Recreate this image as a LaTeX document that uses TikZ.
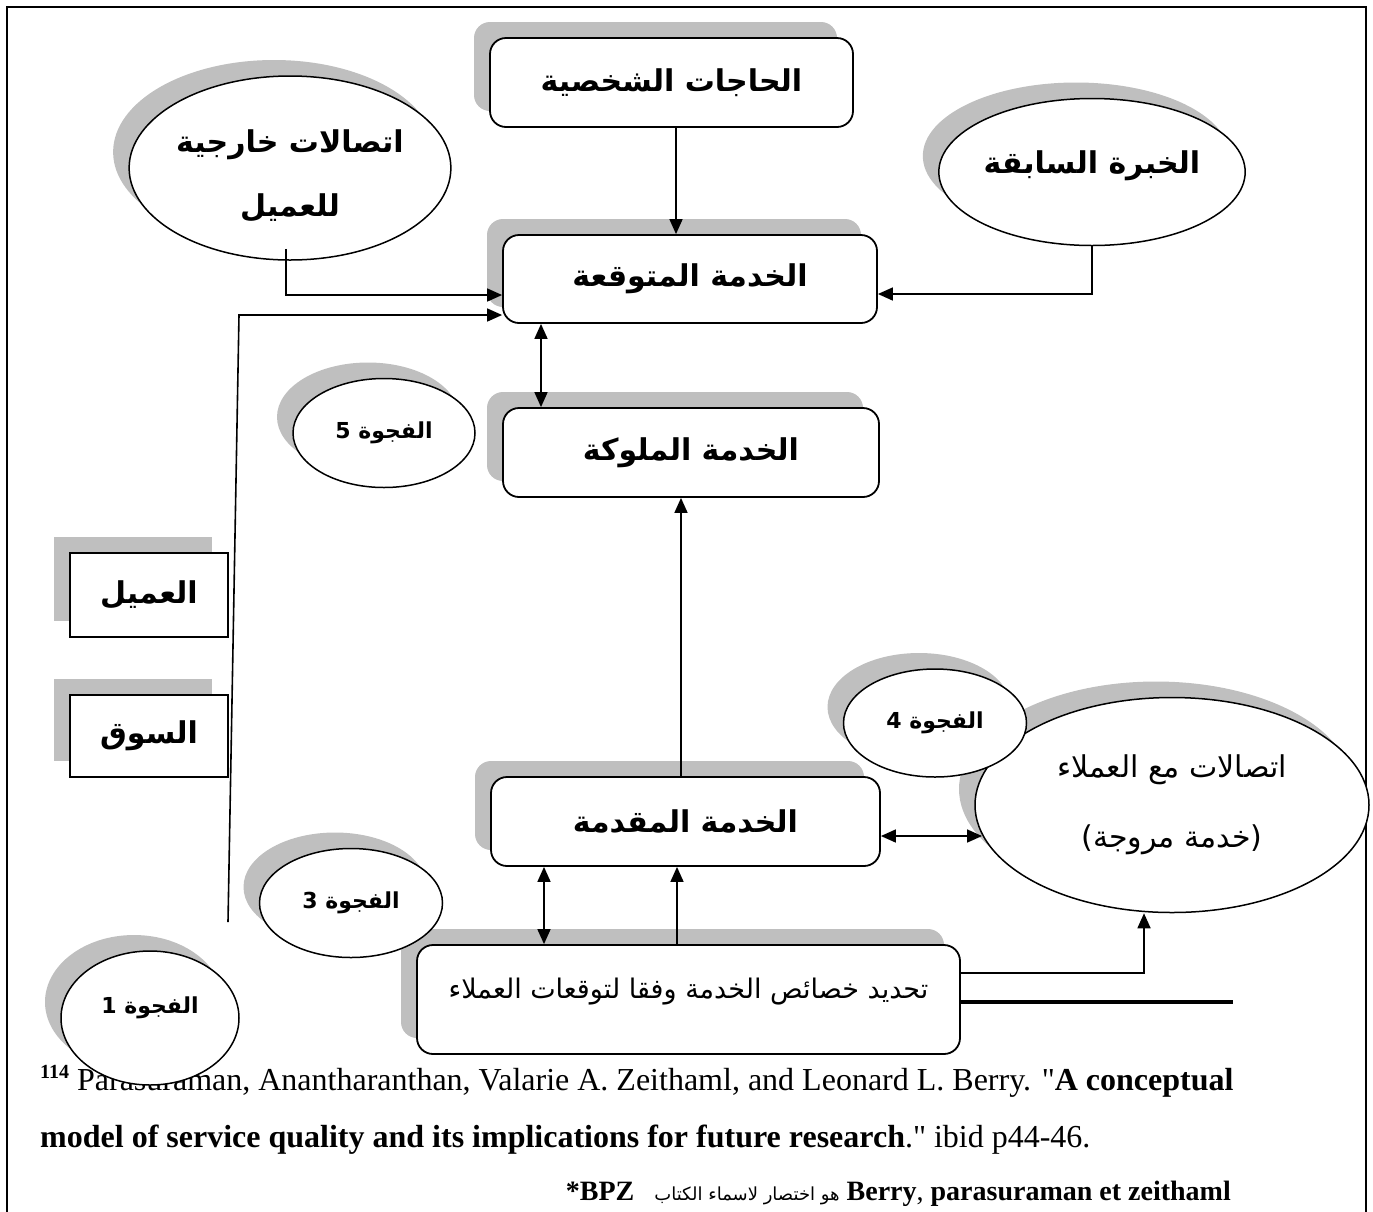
\documentclass[tikz,border=0pt]{standalone}
\usepackage{fontspec}
\setmainfont[Ligatures=TeXOff]{Liberation Serif}
\newfontfamily\arabicfont[Script=Arabic]{DejaVu Sans}
\TeXXeTstate=1
\usetikzlibrary{arrows.meta,shapes.geometric,shadows}
\definecolor{shade}{RGB}{191,191,191}

% right-to-left run of Arabic text
\newcommand{\artext}[1]{\beginR#1\endR}
% move text up or down without changing the size of its box
\newcommand{\lift}[2]{\raisebox{#1}[\height][\depth]{#2}}
\newcommand{\boldar}{\arabicfont\bfseries\fontsize{30}{64}\selectfont}
\newcommand{\plainar}{\arabicfont\fontsize{30}{70}\selectfont}
\newcommand{\specar}{\arabicfont\fontsize{27}{32}\selectfont}
\newcommand{\gapar}{\arabicfont\bfseries\fontsize{22}{26}\selectfont}

\begin{document}
\begin{tikzpicture}[x=1pt,y=-1pt,
  shadowed/.style={drop shadow={shadow xshift=-16pt,shadow yshift=16pt,fill=shade,opacity=1}},
  shapeline/.style={draw=black,line width=1.8pt,fill=white,inner sep=0pt,shadowed},
  roundbox/.style={shapeline,rectangle,rounded corners=16pt,font=\boldar},
  plainbox/.style={shapeline,rectangle,font=\boldar},
  oval/.style={shapeline,ellipse,line width=1.5pt},
  tip/.tip={Triangle[length=15pt,width=13pt]},
  link/.style={line width=1.6pt,-tip},
  twoway/.style={line width=1.6pt,tip-tip},
  bar/.style={line width=4pt},
  frame/.style={line width=2.4pt},
  note/.style={inner sep=0pt,font=\fontsize{32}{38}\selectfont},
]
\useasboundingbox (0,0) rectangle (1373,1211);

% page frame
\draw[frame] (7,1220) -- (7,7) -- (1366,7) -- (1366,1220);

% footnote
\node[note,anchor=base west] (ref1) at (40,1090)
  {{\fontsize{20}{20}\selectfont\bfseries\raisebox{12pt}{114}} Parasuraman, Anantharanthan, Valarie A. Zeithaml, and Leonard L. Berry. "\textbf{A conceptual}};
\node[note,anchor=base west] (ref2) at (40,1147)
  {\textbf{model of service quality and its implications for future research}." ibid p44-46.};
\node[inner sep=0pt,anchor=base east,font=\fontsize{28}{32}\selectfont] (ref3) at (1231,1200)
  {\textbf{*BPZ}\hspace{20pt}{\arabicfont\fontsize{18}{20}\selectfont\artext{هو اختصار لاسماء الكتاب}}\ \textbf{Berry}, \textbf{parasuraman et zeithaml}};

% boxes and ovals
\node[roundbox,minimum width=363pt,minimum height=89pt] (needs) at (671.5,82.5) {\artext{الحاجات الشخصية}};
\node[oval,minimum width=308pt,minimum height=184pt,font=\boldar,align=center] (ext) at (290,168)
  {\lift{-8pt}{\artext{اتصالات خارجية}}\\\lift{-8pt}{\artext{للعميل}}};
\node[oval,minimum width=291pt,minimum height=147pt,font=\boldar] (prior) at (1092,172) {\lift{6pt}{\artext{الخبرة السابقة}}};
\node[roundbox,minimum width=374pt,minimum height=88pt] (exp) at (690,279) {\artext{الخدمة المتوقعة}};
\node[oval,minimum width=182pt,minimum height=109pt,font=\gapar] (gap5) at (384,433) {\artext{الفجوة 5}};
\node[roundbox,minimum width=376pt,minimum height=89pt] (perc) at (691,452.5) {\artext{الخدمة الملوكة}};
\node[plainbox,minimum width=158pt,minimum height=84pt] (customer) at (149,595) {\artext{العميل}};
\node[plainbox,minimum width=158pt,minimum height=82pt] (market) at (149,736) {\artext{السوق}};
\node[oval,minimum width=394pt,minimum height=215pt,font=\plainar,align=center] (wom) at (1172,805)
  {\artext{اتصالات مع العملاء}\\\artext{(خدمة مروجة)}};
\node[oval,minimum width=183pt,minimum height=108pt,font=\gapar] (gap4) at (935,723) {\artext{الفجوة 4}};
\node[roundbox,minimum width=389pt,minimum height=89pt] (deliv) at (685.5,821.5) {\artext{الخدمة المقدمة}};
\node[roundbox,minimum width=543pt,minimum height=109pt,font=\specar] (spec) at (688.5,999.5)
  {\lift{8pt}{\artext{تحديد خصائص الخدمة وفقا لتوقعات العملاء}}};
\node[oval,minimum width=183pt,minimum height=109pt,font=\gapar] (gap3) at (351,903) {\artext{الفجوة 3}};
\node[oval,minimum width=178pt,minimum height=134pt,font=\gapar] (gap1) at (150,1018) {\lift{10pt}{\artext{الفجوة 1}}};

% free ends of the market line and the bar
\coordinate (mktfoot) at (228,922);
\coordinate (mktbend) at (239,315);
\coordinate (barend) at (1233,1002);

% connectors
\draw[link] ([xshift=4.5pt]needs.south) -- ([xshift=-14pt]exp.north);
\draw[link] ([xshift=-4pt,yshift=12pt]ext.south) |- ([yshift=-16pt]exp.west);
\draw[link] (prior.south) |- ([yshift=-15pt]exp.east);
\draw[link] (mktfoot) -- (mktbend) -- ([yshift=-36pt]exp.west);
\draw[twoway] ([xshift=-149pt]exp.south) -- ([xshift=-150pt]perc.north);
\draw[link] ([xshift=-4.5pt]deliv.north) -- ([xshift=-10pt]perc.south);
\draw[twoway] ([yshift=-14.5pt]deliv.east) -- ([yshift=-14.5pt]deliv.east -| wom.189);
\draw[twoway] ([xshift=-144.5pt]spec.north) -- ([xshift=-141.5pt]deliv.south);
\draw[link] ([xshift=-11.5pt]spec.north) -- ([xshift=-8.5pt]deliv.south);
\draw[link] ([yshift=26.5pt]spec.east) -| ([xshift=-28pt]wom.south);
\draw[bar] ([yshift=-2.5pt]spec.east) -- (barend);
\end{tikzpicture}
\end{document}
